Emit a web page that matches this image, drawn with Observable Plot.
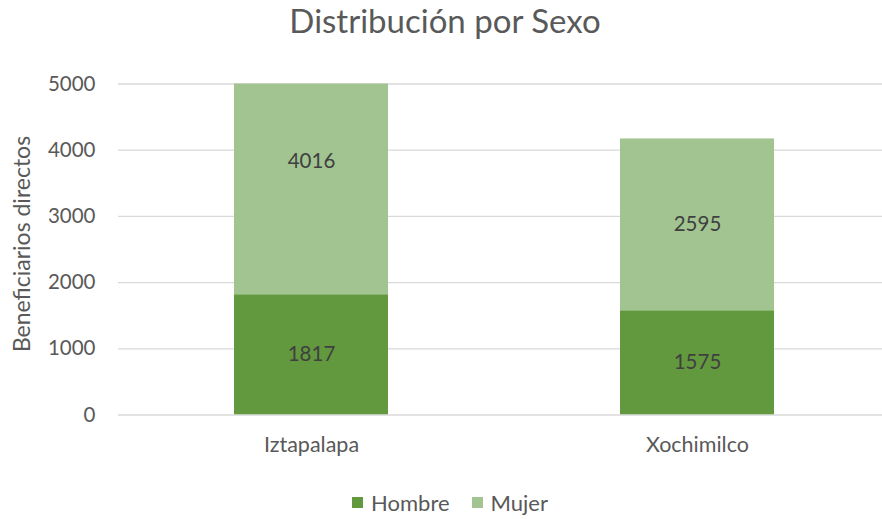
<!DOCTYPE html>
<html>
<head>
<meta charset="utf-8">
<script src="https://cdn.jsdelivr.net/npm/d3@7"></script>
<script src="https://cdn.jsdelivr.net/npm/@observablehq/plot@0.6"></script>
<style>
  html, body { margin: 0; padding: 0; background: #fff; }
  body { width: 882px; height: 519px; overflow: hidden; font-family: Lato, "Open Sans", sans-serif; }
  #title { height: 60px; line-height: 40px; text-align: center; font-size: 33px; color: #595959; padding-left: 8px; box-sizing: border-box; }
  #chart svg { display: block; }
  #legend { height: 39px; display: flex; justify-content: center; align-items: center; font-size: 22px; color: #595959; gap: 22px; padding-left: 18px; padding-top: 5px; box-sizing: border-box; }
  .item { display: flex; align-items: center; gap: 8px; }
  .sw { width: 11px; height: 11px; display: inline-block; }
</style>
</head>
<body>
<div id="title">Distribución por Sexo</div>
<div id="chart"></div>
<div id="legend"></div>
<script>
const categorias = ["Iztapalapa", "Xochimilco"];
const series = ["Hombre", "Mujer"];
const hombre = [1817, 1575];
const mujer = [4016, 2595];
const yTicks = [0, 1000, 2000, 3000, 4000, 5000];
const colores = ["#62993e", "#a2c490"];
const yTitulo = "Beneficiarios directos";

const data = [];
categorias.forEach((c, i) => {
  data.push({cat: c, sexo: "Hombre", value: hombre[i]});
  data.push({cat: c, sexo: "Mujer", value: mujer[i]});
});

const chart = Plot.plot({
  width: 882,
  height: 420,
  marginLeft: 118,
  marginRight: 0,
  marginTop: 23.5,
  marginBottom: 65.5,
  style: {fontFamily: "Lato, 'Open Sans', sans-serif", fontSize: "20px", color: "#595959", background: "#fff"},
  x: {domain: categorias, range: [118, 891], paddingInner: 0.6, paddingOuter: 0.3},
  y: {domain: [0, 5000]},
  color: {domain: series, range: colores},
  marks: [
    Plot.gridY(yTicks, {stroke: "#d9d9d9", strokeOpacity: 1, strokeWidth: 1.3}),
    Plot.barY(data, Plot.stackY({x: "cat", y: "value", fill: "sexo", order: series, clip: true})),
    Plot.text(data, Plot.stackY({x: "cat", y: "value", z: "sexo", order: series, text: d => String(d.value), fill: "#404040", fontSize: 20.5})),
    Plot.axisY(yTicks, {tickSize: 0, tickPadding: 23, tickFormat: d3.format("d"), label: null, fill: "#595959", fontSize: 20.5}),
    Plot.text([yTitulo], {frameAnchor: "left", rotate: -90, dx: -96, dy: -5.5, lineAnchor: "middle", textAnchor: "middle", fontSize: 23, fill: "#595959"}),
    Plot.axisX({tickSize: 0, tickPadding: 22, label: null, fill: "#595959", fontSize: 21.5})
  ]
});
document.getElementById("chart").appendChild(chart);

const legend = document.getElementById("legend");
series.forEach((s, i) => {
  const item = document.createElement("span");
  item.className = "item";
  const sw = document.createElement("span");
  sw.className = "sw";
  sw.style.background = colores[i];
  item.appendChild(sw);
  item.appendChild(document.createTextNode(s));
  legend.appendChild(item);
});
</script>
</body>
</html>
